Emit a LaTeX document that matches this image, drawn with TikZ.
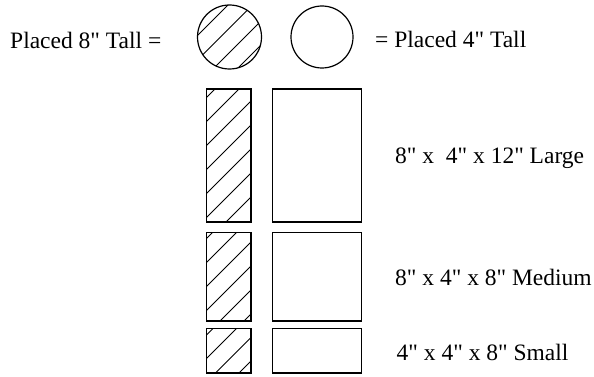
\documentclass[tikz,border=0pt]{standalone}
\usepackage{fontspec}
\setmainfont{Liberation Serif}[Ligatures=TeXOff]
\begin{document}
\begin{tikzpicture}[x=1pt,y=-1pt,
  outline/.style={draw=black,line width=1.2pt},
  hatch/.style={draw=black,line width=1pt},
  lbl/.style={anchor=base west,inner sep=0pt,font=\fontsize{23.5}{28}\selectfont}]
\useasboundingbox (0,0) rectangle (594,377);
% circles
\begin{scope}
  \clip (229.5,37) circle (32);
  \foreach \c in {233,257.5,282,306} \draw[hatch] (\c-70,70) -- (\c-4,4);
\end{scope}
\node[outline,circle,minimum size=64pt,inner sep=0pt] (c8) at (229.5,37) {};
\node[outline,circle,minimum size=62pt,inner sep=0pt] (c4) at (322,37) {};
% large
\begin{scope}
  \clip (206.5,89) rectangle (251,222);
  \foreach \c in {304,328,...,448} \draw[hatch] (\c-223,223) -- (\c-88,88);
\end{scope}
\draw[outline] (206.5,89) rectangle (251,222);
\draw[outline] (272.5,89) rectangle (361.5,222);
% medium
\begin{scope}
  \clip (206.5,232.5) rectangle (251,321);
  \foreach \c in {445,469,...,565} \draw[hatch] (\c-322,322) -- (\c-231,231);
\end{scope}
\draw[outline] (206.5,232.5) rectangle (251,321);
\draw[outline] (272.5,232.5) rectangle (361.5,321);
% small
\begin{scope}
  \clip (206.5,328.5) rectangle (251,373);
  \foreach \c in {541.5,565,588.5,612} \draw[hatch] (\c-374,374) -- (\c-327,327);
\end{scope}
\draw[outline] (206.5,328.5) rectangle (251,373);
\draw[outline] (272.5,328.5) rectangle (361.5,373);
% labels
\node[lbl] (t8) at (10,49) {Placed 8" Tall =};
\node[lbl] (t4) at (375,48) {= Placed 4" Tall};
\node[lbl] (tl) at (395,163.5) {8" x~ 4" x 12" Large};
\node[lbl] (tm) at (395,285) {8" x 4" x 8" Medium};
\node[lbl] (ts) at (396.5,360) {4" x 4" x 8" Small};
\end{tikzpicture}
\end{document}
